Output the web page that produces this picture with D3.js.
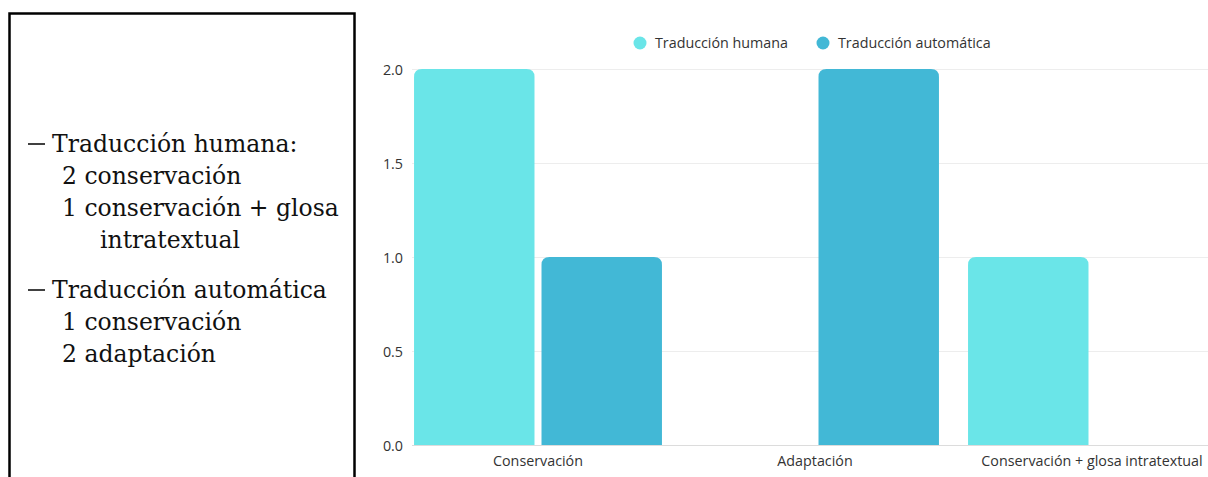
<!DOCTYPE html>
<html>
<head>
<meta charset="utf-8">
<script src="https://cdn.jsdelivr.net/npm/d3@7"></script>
<style>
  body { margin: 0; background: #fff; }
  svg { display: block; }
  .note { font-family: "DejaVu Serif", serif; font-size: 23.5px; fill: #111; }
  .chart text { font-family: "Open Sans", sans-serif; font-size: 14.3px; fill: #333; }
  .grid line { stroke: #ececec; stroke-width: 1; }
</style>
</head>
<body>
<script>
// data
var categories = ["Conservación", "Adaptación", "Conservación + glosa intratextual"];
var seriesNames = ["Traducción humana", "Traducción automática"];
var humana = [2, 0, 1];
var automatica = [1, 2, 0];
var yTicks = [0, 0.5, 1, 1.5, 2];
var colors = ["#6ae5e8", "#42b8d6"];

// text in the box on the left
var noteLines = [
    {dash: true, text: "Traducción humana:", indent: 0},
    {text: "2 conservación", indent: 1},
    {text: "1 conservación + glosa", indent: 1},
    {text: "intratextual", indent: 2},
    {dash: true, text: "Traducción automática", indent: 0, gap: true},
    {text: "1 conservación", indent: 1},
    {text: "2 adaptación", indent: 1}
];

var W = 1208, H = 477;
var svg = d3.select("body").append("svg")
    .attr("width", W)
    .attr("height", H);

// left box
svg.append("rect")
    .attr("x", 9.5).attr("y", 13.5)
    .attr("width", 345).attr("height", 480)
    .attr("fill", "none")
    .attr("stroke", "#000")
    .attr("stroke-width", 2.5);

var baseY = 152, lineH = 32, groupGap = 18;
var indents = [52, 62, 100];
var yy = baseY;
noteLines.forEach(function (d, i) {
    if (i > 0) yy += lineH + (d.gap ? groupGap : 0);
    if (d.dash) {
        // the dash in front of each heading
        svg.append("line")
            .attr("x1", 28).attr("x2", 45)
            .attr("y1", yy - 8).attr("y2", yy - 8)
            .attr("stroke", "#111")
            .attr("stroke-width", 1.6);
    }
    svg.append("text").attr("class", "note")
        .attr("x", indents[d.indent]).attr("y", yy)
        .text(d.text);
});

// chart
var chart = svg.append("g").attr("class", "chart");

var y = d3.scaleLinear().domain([0, 2]).range([445, 69]);
var x0 = d3.scaleBand().domain(categories)
    .range([399.5, 1230.5])
    .paddingInner(0.105)
    .paddingOuter(0.0525);
var x1 = d3.scaleBand().domain(seriesNames)
    .range([0, x0.bandwidth()])
    .paddingInner(0.055);

// gridlines
chart.append("g").attr("class", "grid")
    .selectAll("line")
    .data(yTicks)
    .enter().append("line")
    .attr("x1", 412).attr("x2", W)
    .attr("y1", function (d) { return Math.round(y(d)) + 0.5; })
    .attr("y2", function (d) { return Math.round(y(d)) + 0.5; })
    .style("stroke", function (d) { return d === 0 ? "#dcdcdc" : "#ededed"; });

// y labels
var yAxis = chart.append("g")
    .attr("transform", "translate(403,0)")
    .call(d3.axisLeft(y).tickValues(yTicks).tickFormat(d3.format(".1f")).tickSize(0).tickPadding(0));
yAxis.select(".domain").remove();
yAxis.selectAll("text").attr("dy", "0.35em");

// x labels
var xAxis = chart.append("g")
    .attr("transform", "translate(0,445)")
    .call(d3.axisBottom(x0).tickSize(0).tickPadding(11));
xAxis.select(".domain").remove();

// rounded-top bar path
function barPath(x, yTop, w, h, r) {
    r = Math.min(r, h, w / 2);
    return "M" + x + "," + (yTop + h) +
        "V" + (yTop + r) +
        "Q" + x + "," + yTop + " " + (x + r) + "," + yTop +
        "H" + (x + w - r) +
        "Q" + (x + w) + "," + yTop + " " + (x + w) + "," + (yTop + r) +
        "V" + (yTop + h) + "Z";
}

var rows = categories.map(function (c, i) {
    return {cat: c, values: [humana[i], automatica[i]]};
});

chart.selectAll(".group")
    .data(rows)
    .enter().append("g")
    .attr("class", "group")
    .attr("transform", function (d) { return "translate(" + x0(d.cat) + ",0)"; })
    .selectAll("path")
    .data(function (d) {
        return seriesNames.map(function (s, j) { return {s: s, v: d.values[j], j: j}; })
            .filter(function (e) { return e.v > 0; });
    })
    .enter().append("path")
    .attr("fill", function (d) { return colors[d.j]; })
    .attr("d", function (d) {
        return barPath(x1(d.s), y(d.v), x1.bandwidth(), y(0) - y(d.v), 8);
    });

// legend
var legendX = [640, 823];
var legend = chart.selectAll(".legend")
    .data(seriesNames)
    .enter().append("g")
    .attr("class", "legend")
    .attr("transform", function (d, i) { return "translate(" + legendX[i] + ",43)"; });
legend.append("circle")
    .attr("r", 6.5)
    .attr("fill", function (d, i) { return colors[i]; });
legend.append("text")
    .attr("x", 15)
    .attr("dy", "0.35em")
    .text(function (d) { return d; });
</script>
</body>
</html>
